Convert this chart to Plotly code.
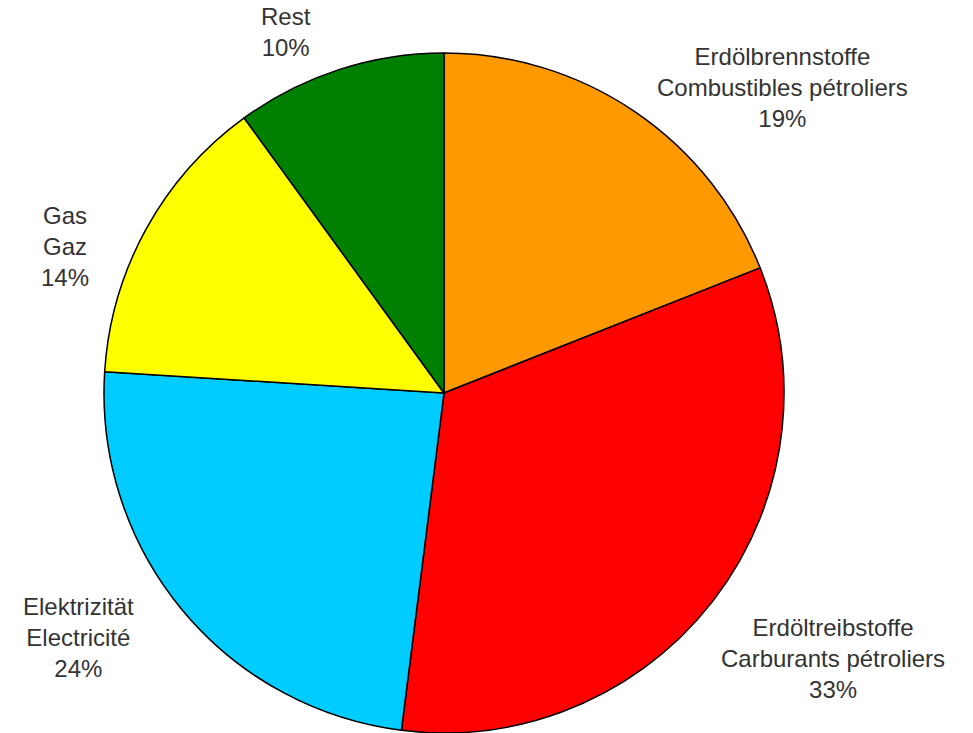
import math
import plotly.graph_objects as go

# ---- data ----
labels_de = ["Erdölbrennstoffe", "Erdöltreibstoffe", "Elektrizität", "Gas", "Rest"]
labels_fr = ["Combustibles pétroliers", "Carburants pétroliers", "Electricité", "Gaz", ""]
values = [19, 33, 24, 14, 10]
colors = ["#FF9900", "#FF0000", "#00CCFF", "#FFFF00", "#008000"]

# label placement relative to each slice's mid-angle (radius factor, angle nudge in degrees)
label_rfac = [1.341, 1.385, 1.294, 1.194, 1.159]
label_dang = [13.8, -3.5, 5.8, -7.7, -5.6]

W, H = 973, 733
cx, cy, R = 444, 393, 340  # pie centre / radius in pixels

fig = go.Figure(go.Pie(
    values=values,
    labels=labels_de,
    marker=dict(colors=colors, line=dict(color="#000000", width=1.5)),
    sort=False,
    direction="clockwise",
    rotation=0,
    textinfo="none",
    hoverinfo="skip",
    showlegend=False,
    domain=dict(x=[(cx - R) / W, (cx + R) / W], y=[(H - cy - R) / H, (H - cy + R) / H]),
))

total = sum(values)
cum = 0
annotations = []
for i, v in enumerate(values):
    mid = (cum + v / 2) / total * 360
    cum += v
    ang = math.radians(mid + label_dang[i])
    d = R * label_rfac[i]
    px = cx + d * math.sin(ang)
    py = cy - d * math.cos(ang)
    pct = f"{round(v / total * 100)}%"
    lines = [labels_de[i]] + ([labels_fr[i]] if labels_fr[i] else []) + [pct]
    annotations.append(dict(
        x=px / W, y=1 - py / H, xref="paper", yref="paper",
        text="<br>".join(lines), showarrow=False,
        xanchor="center", yanchor="middle", align="center",
        font=dict(family="Liberation Sans, Arial, sans-serif", size=24, color="#333333"),
    ))

fig.update_layout(
    width=W, height=H,
    margin=dict(l=0, r=0, t=0, b=0),
    paper_bgcolor="white", plot_bgcolor="white",
    annotations=annotations,
)

fig.write_html("out.html")
